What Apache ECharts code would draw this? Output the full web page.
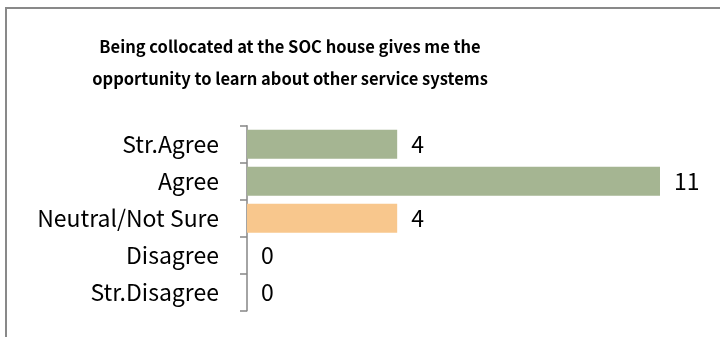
<!DOCTYPE html>
<html>
<head>
<meta charset="utf-8">
<style>
  html, body { margin: 0; padding: 0; background: #fff; }
  #chart { width: 720px; height: 337px; }
</style>
<script src="https://cdn.jsdelivr.net/npm/echarts@6/dist/echarts.min.js"></script>
</head>
<body>
<div id="chart"></div>
<script>
// Survey responses, listed top to bottom
const categories = ['Str.Agree', 'Agree', 'Neutral/Not Sure', 'Disagree', 'Str.Disagree'];
const counts = [4, 11, 4, 0, 0];
const barColors = ['#A5B592', '#A5B592', '#F8C78D', '#A5B592', '#A5B592'];
const titleLines = [
  'Being collocated at the SOC house gives me the',
  'opportunity to learn about other service systems'
];

const FONT = '"Noto Sans CJK SC", Lato, sans-serif';
const chart = echarts.init(document.getElementById('chart'));

chart.setOption({
  animation: false,
  graphic: [
    {
      type: 'rect',
      shape: { x: 6, y: 8, width: 760, height: 380 },
      style: { fill: 'none', stroke: '#898989', lineWidth: 2 },
      silent: true
    },
    {
      type: 'text',
      x: 290,
      y: 63,
      style: {
        text: titleLines.join('\n'),
        font: 'bold 16.5px ' + FONT,
        fill: '#000',
        align: 'center',
        verticalAlign: 'middle',
        lineHeight: 32
      }
    }
  ],
  grid: { left: 247, top: 125.7, width: 413, height: 185, containLabel: false },
  xAxis: {
    type: 'value',
    min: 0,
    max: 11,
    show: false
  },
  yAxis: {
    type: 'category',
    data: categories,
    inverse: true,
    axisLine: { show: true, lineStyle: { color: '#868686', width: 1.5 } },
    axisTick: { show: true, length: 7, lineStyle: { color: '#868686', width: 1.5 } },
    axisLabel: { margin: 28, color: '#000', fontSize: 23, fontFamily: FONT },
    splitLine: { show: false }
  },
  series: [{
    type: 'bar',
    data: counts.map((v, i) => ({ value: v, itemStyle: { color: barColors[i] } })),
    barCategoryGap: '22%',
    label: {
      show: true,
      position: 'right',
      distance: 14,
      color: '#000',
      fontSize: 23,
      fontFamily: FONT
    }
  }]
});
</script>
</body>
</html>
